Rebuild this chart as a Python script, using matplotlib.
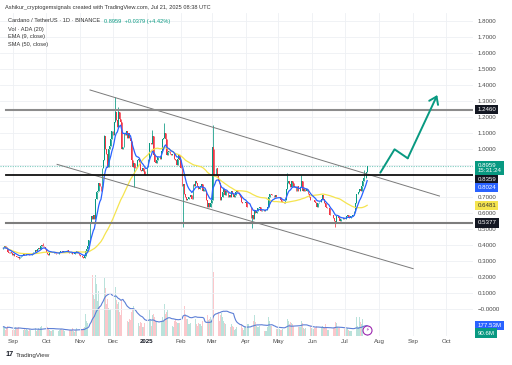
import numpy as np
import pandas as pd
import matplotlib
matplotlib.use('Agg')
import matplotlib.pyplot as plt
import matplotlib.transforms as mtransforms

plt.rcParams['font.family'] = ['Liberation Sans', 'DejaVu Sans']

# ---- daily ADA/USDT closes, 2024-08-23 .. 2025-07-21 ----
start_date = '2024-08-23'
closes_aug = [0.380, 0.392, 0.385, 0.372, 0.355, 0.352, 0.355, 0.350, 0.338]
closes_sep = [0.342, 0.330, 0.332, 0.328, 0.322, 0.318, 0.326, 0.332, 0.336, 0.342,
              0.338, 0.340, 0.344, 0.346, 0.338, 0.336, 0.340, 0.344, 0.356, 0.358,
              0.368, 0.362, 0.372, 0.380, 0.378, 0.392, 0.402, 0.396, 0.388, 0.372]
closes_oct = [0.356, 0.342, 0.340, 0.348, 0.352, 0.348, 0.352, 0.356, 0.348, 0.345,
              0.344, 0.346, 0.356, 0.362, 0.360, 0.358, 0.360, 0.362, 0.360, 0.366,
              0.356, 0.352, 0.348, 0.356, 0.344, 0.346, 0.355, 0.353, 0.364, 0.350, 0.338]
closes_nov = [0.332, 0.330, 0.324, 0.320, 0.330, 0.362, 0.378, 0.395, 0.430, 0.540,
              0.580, 0.560, 0.590, 0.560, 0.690, 0.730, 0.740, 0.790, 0.770, 0.740,
              0.880, 0.930, 1.080, 1.000, 0.970, 0.890, 1.000, 1.020, 1.060, 1.110]
closes_dec = [1.090, 1.170, 1.230, 1.180, 1.140, 1.230, 1.190, 1.170, 1.000, 1.010,
              1.100, 1.090, 1.110, 1.070, 1.100, 1.070, 1.050, 0.930, 0.890, 0.910,
              0.880, 0.890, 0.930, 0.940, 0.920, 0.870, 0.860, 0.880, 0.860, 0.840, 0.840]
closes_jan = [0.890, 0.940, 1.040, 1.040, 1.030, 1.080, 0.960, 0.920, 0.910, 0.930,
              0.950, 0.950, 0.940, 0.990, 1.060, 1.070, 1.100, 1.060, 0.960, 0.980,
              0.990, 0.970, 0.960, 0.970, 0.970, 0.940, 0.930, 0.900, 0.940, 0.960, 0.930]
closes_feb = [0.880, 0.770, 0.780, 0.720, 0.700, 0.680, 0.690, 0.700, 0.700, 0.710,
              0.690, 0.780, 0.770, 0.800, 0.790, 0.770, 0.750, 0.760, 0.770, 0.780,
              0.740, 0.750, 0.740, 0.680, 0.640, 0.660, 0.640, 0.660]
closes_mar = [0.680, 1.010, 0.830, 0.840, 0.880, 0.830, 0.800, 0.790, 0.680, 0.700,
              0.730, 0.750, 0.710, 0.740, 0.730, 0.700, 0.710, 0.700, 0.740, 0.720,
              0.700, 0.710, 0.730, 0.740, 0.730, 0.710, 0.700, 0.670, 0.660, 0.660, 0.660]
closes_apr = [0.670, 0.640, 0.640, 0.640, 0.640, 0.570, 0.590, 0.560, 0.620, 0.600,
              0.610, 0.630, 0.630, 0.640, 0.610, 0.620, 0.620, 0.610, 0.620, 0.620,
              0.640, 0.700, 0.720, 0.720, 0.710, 0.710, 0.700, 0.710, 0.700, 0.700]
closes_may = [0.700, 0.700, 0.680, 0.670, 0.670, 0.660, 0.680, 0.750, 0.790, 0.800,
              0.780, 0.760, 0.800, 0.790, 0.760, 0.770, 0.740, 0.770, 0.740, 0.740,
              0.760, 0.800, 0.740, 0.750, 0.740, 0.740, 0.750, 0.720, 0.700, 0.680, 0.680]
closes_jun = [0.680, 0.680, 0.670, 0.660, 0.640, 0.660, 0.670, 0.670, 0.690, 0.710,
              0.690, 0.660, 0.640, 0.630, 0.630, 0.630, 0.590, 0.590, 0.590, 0.570,
              0.550, 0.540, 0.580, 0.580, 0.570, 0.550, 0.560, 0.560, 0.570, 0.560]
closes_jul = [0.560, 0.580, 0.590, 0.570, 0.570, 0.580, 0.580, 0.590, 0.610, 0.660,
              0.720, 0.720, 0.730, 0.750, 0.740, 0.770, 0.800, 0.820, 0.820, 0.858, 0.8959]
first_open = 0.375

# notable wicks
wick_highs = {'2024-09-28': 0.410, '2024-11-23': 1.090, '2024-12-03': 1.326,
              '2024-12-06': 1.260, '2025-01-06': 1.120, '2025-01-17': 1.160,
              '2025-03-02': 1.150, '2025-03-03': 1.000, '2025-05-09': 0.850,
              '2025-05-22': 0.835, '2025-07-18': 0.870}
wick_lows = {'2024-09-06': 0.310, '2024-12-20': 0.765, '2025-02-03': 0.510,
             '2025-04-07': 0.506, '2025-06-22': 0.512}

# ---- daily volume, millions of ADA ----
vol_aug = [160, 150, 110, 140, 170, 180, 130, 110, 100]
vol_sep = [120, 110, 150, 140, 130, 160, 140, 90, 80, 110, 120, 100, 120, 110, 80,
           120, 110, 100, 150, 140, 130, 90, 110, 140, 110, 150, 180, 140, 110, 150]
vol_oct = [180, 160, 120, 110, 90, 80, 110, 100, 100, 110, 110, 80, 100, 120, 120, 110,
           100, 90, 80, 110, 120, 110, 110, 100, 130, 80, 70, 110, 140, 120, 130]
vol_nov = [130, 120, 110, 140, 150, 380, 260, 220, 450, 1100, 680, 1050, 700, 640, 1060,
           900, 600, 780, 520, 480, 980, 760, 1000, 820, 560, 640, 480, 440, 460, 600]
vol_dec = [520, 700, 840, 620, 560, 580, 420, 360, 620, 660, 380, 300, 280, 260, 250, 300,
           280, 420, 480, 520, 300, 240, 260, 220, 180, 240, 220, 160, 160, 220, 200]
vol_jan = [180, 260, 440, 300, 180, 360, 380, 320, 260, 240, 160, 150, 320, 260, 320, 260,
           560, 380, 420, 440, 300, 220, 240, 180, 160, 260, 300, 240, 220, 230, 220]
vol_feb = [240, 420, 1300, 520, 360, 300, 300, 200, 200, 220, 200, 360, 260, 300, 200,
           180, 220, 200, 200, 180, 260, 160, 140, 280, 360, 280, 300, 320]
vol_mar = [280, 1430, 1100, 760, 480, 380, 420, 260, 360, 400, 320, 260, 220, 200, 140, 140,
           160, 160, 200, 180, 160, 110, 120, 160, 140, 130, 140, 200, 130, 110, 160]
vol_apr = [150, 180, 200, 200, 110, 280, 340, 260, 360, 240, 180, 160, 150, 170, 150,
           150, 110, 90, 80, 90, 160, 320, 260, 180, 170, 120, 120, 140, 120, 120]
vol_may = [140, 120, 110, 100, 120, 150, 160, 300, 290, 260, 200, 240, 220, 200, 180, 160,
           140, 150, 160, 150, 150, 260, 220, 140, 120, 130, 150, 160, 160, 170, 140]
vol_jun = [120, 120, 140, 130, 180, 150, 110, 100, 150, 170, 150, 160, 200, 130, 100,
           110, 170, 150, 110, 140, 160, 240, 220, 160, 140, 140, 90, 80, 90, 120]
vol_jul = [110, 120, 130, 110, 90, 80, 90, 110, 130, 240, 320, 180, 150, 330, 240, 200,
           300, 240, 180, 220, 90.6]

# ---- drawings ----
upper_channel = (('2024-11-10', 1.369), ('2025-09-25', 0.706))
lower_channel = (('2024-10-11', 0.904), ('2025-09-01', 0.252))
levels = [1.2460, 0.8359, 0.5377]
level_colors = ['#8c8c8c', '#111111', '#7d7d7d']
level_start = '2024-08-25'
arrow_dates = ['2025-08-02', '2025-08-15', '2025-08-27', '2025-09-23']
arrow_prices = [0.852, 0.998, 0.942, 1.3375]

month_dates = ['2024-09-01', '2024-10-01', '2024-11-01', '2024-12-01', '2025-01-01',
               '2025-02-01', '2025-03-01', '2025-04-01', '2025-05-01', '2025-06-01',
               '2025-07-01', '2025-08-01', '2025-09-01', '2025-10-01']
month_labels = ['Sep', 'Oct', 'Nov', 'Dec', '2025', 'Feb', 'Mar', 'Apr', 'May', 'Jun',
                'Jul', 'Aug', 'Sep', 'Oct']
price_ticks = [0.0, 0.1, 0.2, 0.3, 0.4, 0.5, 0.6, 0.7, 1.0, 1.1, 1.2, 1.3,
               1.4, 1.5, 1.6, 1.7, 1.8]
price_tick_labels = ['\u22120.0000', '0.1000', '0.2000', '0.3000', '0.4000', '0.5000',
                     '0.6000', '0.7000', '1.0000', '1.1000', '1.2000',
                     '1.3000', '1.4000', '1.5000', '1.6000', '1.7000', '1.8000']
grid_prices = [0.8, 0.9]   # grid rows whose labels sit under the price tags

UP, DOWN = '#089981', '#f23645'
ORIGIN = pd.Timestamp('2024-09-01')


def dnum(s):
    return (pd.Timestamp(s) - ORIGIN).days


closes = np.array(closes_aug + closes_sep + closes_oct + closes_nov + closes_dec + closes_jan
                  + closes_feb + closes_mar + closes_apr + closes_may + closes_jun + closes_jul)
vols = np.array(vol_aug + vol_sep + vol_oct + vol_nov + vol_dec + vol_jan + vol_feb
                + vol_mar + vol_apr + vol_may + vol_jun + vol_jul, dtype=float)
dates = pd.date_range(start_date, periods=len(closes), freq='D')
d = (dates - ORIGIN).days.values.astype(float)

opens = np.concatenate([[first_open], closes[:-1]])
highs = np.maximum(opens, closes)
lows = np.minimum(opens, closes)
for k, v in wick_highs.items():
    highs[dates.get_loc(pd.Timestamp(k))] = v
for k, v in wick_lows.items():
    lows[dates.get_loc(pd.Timestamp(k))] = v

ema9 = pd.Series(closes).ewm(span=9, adjust=False).mean().values
sma50 = pd.Series(closes).rolling(50, min_periods=1).mean().values
vol_ma = pd.Series(vols).rolling(20, min_periods=1).mean().values

# ---- figure layout (pixel based) ----
W, H = 512, 365
fig = plt.figure(figsize=(W / 100, H / 100), dpi=100)
fig.patch.set_facecolor('white')


def fx(x):
    return x / W


def fy(y):
    return 1 - y / H


rect = [0, fy(336), 473 / W, 323 / H]
axv = fig.add_axes(rect)
ax = fig.add_axes(rect, sharex=axv)
ax.set_zorder(axv.get_zorder() + 1)
ax.patch.set_visible(False)

xlim = (-12.14, 419.6)
ax.set_xlim(*xlim)
ax.set_ylim(-0.16875, 1.85)

# volume pane
up = closes >= opens
cols = np.where(up, UP, DOWN)
axv.bar(d, vols, width=0.65, color=cols, alpha=0.28, linewidth=0)
axv.plot(d, vol_ma, color='#5c7fd6', lw=0.8)
axv.set_ylim(0, 323 / 0.058)
axv.set_yticks([])
axv.tick_params(axis='x', length=0, labelbottom=False)
for s in axv.spines.values():
    s.set_visible(False)

# grid
month_d = [dnum(m) for m in month_dates]
ax.set_axisbelow(True)
ax.grid(True, color='#eef0f4', lw=0.6)
for gp in grid_prices:
    ax.axhline(gp, color='#eef0f4', lw=0.6, zorder=0.5)
for s in ax.spines.values():
    s.set_visible(False)

# candles
ax.vlines(d, lows, highs, colors=cols, lw=0.55, zorder=3)
ax.bar(d, np.abs(closes - opens), bottom=np.minimum(opens, closes),
       width=0.8, color=cols, linewidth=0, zorder=3)
ax.plot(d, sma50, color='#f5e44f', lw=0.9, zorder=4)
ax.plot(d, ema9, color='#2962ff', lw=0.9, zorder=4)

# drawings
for (a, pa), (b, pb) in [upper_channel, lower_channel]:
    ax.plot([dnum(a), dnum(b)], [pa, pb], color='#7a7a7a', lw=0.7, zorder=4)
for lv, lc in zip(levels, level_colors):
    ax.plot([dnum(level_start), xlim[1]], [lv, lv], color=lc,
            lw=1.5 if lc != '#111111' else 1.3, zorder=4)
ax.axhline(closes[-1], color='#7fcdc0', lw=0.8, ls=(0, (1, 1.2)), zorder=2)
ad = [dnum(a) for a in arrow_dates]
ax.plot(ad[:-1], arrow_prices[:-1], color=UP, lw=1.4, solid_capstyle='round', zorder=5)
ax.annotate('', xy=(ad[-1], arrow_prices[-1]), xytext=(ad[-2], arrow_prices[-2]),
            arrowprops=dict(arrowstyle='->,head_length=0.5,head_width=0.35', color=UP,
                            lw=1.4, shrinkA=0, shrinkB=0), zorder=5)

# axes ticks
ax.set_xticks(month_d)
ax.set_xticklabels(month_labels)
ax.tick_params(axis='x', length=0, pad=2.3, labelsize=4.4, labelcolor='#4a4a4a')
for lab in ax.get_xticklabels():
    if lab.get_text() == '2025':
        lab.set_fontweight('bold')
        lab.set_color('#131722')
ax.yaxis.tick_right()
ax.set_yticks(price_ticks)
ax.set_yticklabels(price_tick_labels)
ax.tick_params(axis='y', length=0, pad=3.6, labelsize=4.4, labelcolor='#4a4a4a')

# price tags on the right
tr_price = mtransforms.blended_transform_factory(ax.transAxes, ax.transData)
tr_vol = mtransforms.blended_transform_factory(ax.transAxes, axv.transData)


def tag(val, text, bg, fg, trans, dy_px=0, va='center'):
    ax.annotate(text, xy=(1, val), xycoords=trans, xytext=(3.3, -dy_px * 0.72),
                textcoords='offset points', ha='left', va=va, fontsize=4.4, color=fg,
                linespacing=1.05,
                bbox=dict(boxstyle='square,pad=0.35', fc=bg, ec='none'),
                annotation_clip=False, zorder=8)


tag(levels[0], '1.2460', '#131722', 'white', tr_price)
tag(closes[-1], '%.4f\n15:31:24' % closes[-1], UP, 'white', tr_price, dy_px=-2.5, va='top')
tag(levels[1], '0.8359', '#131722', 'white', tr_price, dy_px=4.7)
tag(ema9[-1], '%.4f' % ema9[-1], '#2962ff', 'white', tr_price, dy_px=7)
tag(sma50[-1], '%.4f' % sma50[-1], '#f5e44f', '#333333', tr_price)
tag(levels[2], '0.5377', '#131722', 'white', tr_price)
tag(vol_ma[-1], '%.2fM' % vol_ma[-1], '#2962ff', 'white', tr_vol)
tag(vols[-1], '%.1fM' % vols[-1], UP, 'white', tr_vol, dy_px=2.3)

# last-bar marker
trm = mtransforms.blended_transform_factory(ax.transData, ax.transAxes)
ax.plot([d[-1]], [0.02], marker='o', ms=6.5, mfc='white', mec='#9c27b0', mew=0.8,
        transform=trm, clip_on=False, zorder=9)
ax.text(d[-1], 0.02, '\u26a1', transform=trm, fontsize=3.6, color='#9c27b0',
        ha='center', va='center', zorder=10, family=['DejaVu Sans'])

# header / legend
fig.text(fx(5), fy(7), 'Ashikur_cryptogemsignals created with TradingView.com, Jul 21, 2025 08:38 UTC',
         fontsize=4.1, color='#333333', va='center')
fig.text(fx(8), fy(21), 'Cardano / TetherUS \u00b7 1D \u00b7 BINANCE', fontsize=4.1,
         color='#333333', va='center')
fig.text(fx(104), fy(21), '0.8959  +0.0379 (+4.42%)', fontsize=4.1, color=UP, va='center')
fig.text(fx(8), fy(29), 'Vol \u00b7 ADA (20)', fontsize=4.1, color='#333333', va='center')
fig.text(fx(8), fy(36.7), 'EMA (9, close)', fontsize=4.1, color='#333333', va='center')
fig.text(fx(8), fy(44.3), 'SMA (50, close)', fontsize=4.1, color='#333333', va='center')

# footer
fig.text(fx(5), fy(355), '17', fontsize=5.2, fontweight='bold', color='#131722', va='center')
fig.text(fx(16), fy(355), 'TradingView', fontsize=4.5, color='#333333', va='center')

fig.savefig('out.png', dpi=100, facecolor='white')
